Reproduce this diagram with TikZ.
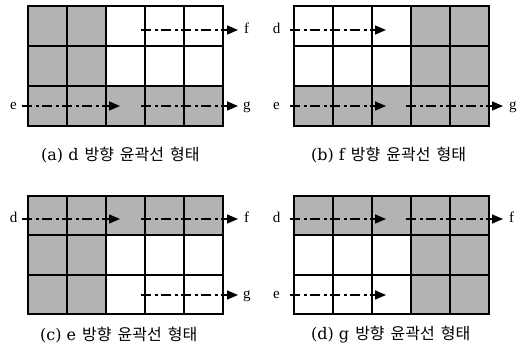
\documentclass[tikz,border=0pt]{standalone}
\usepackage{fontspec}
\setmainfont{Liberation Serif}
\newfontfamily\krfont{Noto Sans CJK KR}
\newfontfamily\caplatin{DejaVu Serif}
\usetikzlibrary{arrows.meta}
\definecolor{cellgray}{HTML}{B3B3B3}
\tikzset{
  gridline/.style={line width=2pt, black},
  flow/.style={line width=1.5pt, dash pattern=on 10pt off 3.5pt on 3pt off 3.5pt,
    -{Triangle[length=11pt,width=9pt]}},
  lbl/.style={font=\fontsize{15}{15}\selectfont, inner sep=0pt, anchor=base},
  captxt/.style={font=\fontsize{16}{17}\selectfont, inner sep=0pt, anchor=west},
}
% #1 x0, #2 y0, #3 row height, #4 gray cells
\newcommand\gridpanel[4]{%
  \foreach \c/\r in {#4} \fill[cellgray] ({#1+(\c-1)*39},{#2+(\r-1)*#3}) rectangle ++(39,#3);
  \foreach \i in {1,...,4} \draw[gridline] ({#1+\i*39},#2) -- ++(0,{3*#3});
  \foreach \j in {1,2} \draw[gridline] (#1,{#2+\j*#3}) -- ++(195,0);
  \draw[gridline] (#1,#2) rectangle ++(195,{3*#3});
}
\newcommand\capline[1]{{\caplatin #1}\hspace{6pt}{\krfont\fontsize{16}{17}\selectfont 방향\hspace{6pt}윤곽선\hspace{6pt}형태}}
\begin{document}
\begin{tikzpicture}[x=1pt,y=-1pt]
\useasboundingbox (0,0) rectangle (525,355);
% ---------- (a)
\gridpanel{28}{6.5}{39.67}{1/1,2/1,1/2,2/2,1/3,2/3,3/3,4/3,5/3}
\node[lbl] (ae) at (13.5,109.5) {e};
\coordinate (ae2) at (120,106);
\draw[flow] (22,106) -- (ae2);
\coordinate (ag1) at (141,106);
\node[lbl,anchor=base west] (ag) at (243,109.5) {g};
\draw[flow] (ag1) -- (238,106);
\coordinate (af1) at (141,30);
\node[lbl,anchor=base west] (af) at (244,34) {f};
\draw[flow] (af1) -- (238,30);
\node[captxt] (capa) at (41,155) {\capline{(a) d}};
% ---------- (b)
\gridpanel{294}{6.5}{39.67}{4/1,5/1,4/2,5/2,1/3,2/3,3/3,4/3,5/3}
\node[lbl] (bd) at (276.5,34) {d};
\coordinate (bd2) at (386,30);
\draw[flow] (290,30) -- (bd2);
\node[lbl] (be) at (276.5,109.5) {e};
\coordinate (be2) at (386,106);
\draw[flow] (290,106) -- (be2);
\coordinate (bg1) at (406,106);
\node[lbl,anchor=base west] (bg) at (509,109.5) {g};
\draw[flow] (bg1) -- (503,106);
\node[captxt] (capb) at (311,155) {\capline{(b) f}};
% ---------- (c)
\gridpanel{28}{196}{39.5}{1/1,2/1,3/1,4/1,5/1,1/2,2/2,1/3,2/3}
\node[lbl] (cd) at (13.5,223) {d};
\coordinate (cd2) at (120,219);
\draw[flow] (22,219) -- (cd2);
\coordinate (cf1) at (141,219);
\node[lbl,anchor=base west] (cf) at (244,223) {f};
\draw[flow] (cf1) -- (238,219);
\coordinate (cg1) at (141,295);
\node[lbl,anchor=base west] (cg) at (243,298.5) {g};
\draw[flow] (cg1) -- (238,295);
\node[captxt] (capc) at (40,335) {\capline{(c) e}};
% ---------- (d)
\gridpanel{294}{196}{39.5}{1/1,2/1,3/1,4/1,5/1,4/2,5/2,4/3,5/3}
\node[lbl] (dd) at (276.5,223) {d};
\coordinate (dd2) at (386,219);
\draw[flow] (290,219) -- (dd2);
\coordinate (df1) at (406,219);
\node[lbl,anchor=base west] (df) at (509,223) {f};
\draw[flow] (df1) -- (503,219);
\node[lbl] (de) at (276.5,298.5) {e};
\coordinate (de2) at (386,295);
\draw[flow] (290,295) -- (de2);
\node[captxt] (capd) at (311,335) {\capline{(d) g}};
\end{tikzpicture}
\end{document}
